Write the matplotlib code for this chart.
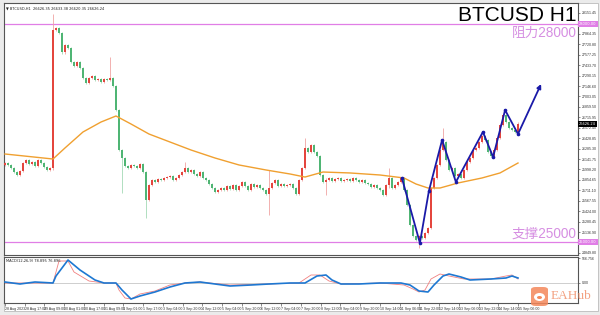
import matplotlib.pyplot as plt
import numpy as np
from matplotlib.patches import Rectangle, FancyBboxPatch, Ellipse

plt.rcParams['font.family'] = ['Liberation Sans', 'Noto Sans CJK SC', 'DejaVu Sans']

# hourly closes (compressed, one bar ~ 2.4 h)
closes = [26087, 26060, 26018, 25963, 25922, 25977, 26087, 26128, 26073, 26101,
          26046, 26128, 26087, 26032, 25991, 26018, 27917, 27945, 27876, 27614,
          27711, 27670, 27477, 27422, 27477, 27394, 27257, 27188, 27257, 27284,
          27229, 27243, 27202, 27243, 27229, 27257, 27147, 26816, 26266, 26156,
          26046, 26018, 26060, 26046, 26018, 26073, 25963, 25578, 25784, 25853,
          25826, 25867, 25853, 25881, 25894, 25908, 25853, 25881, 25922, 25963,
          26018, 25963, 25991, 25936, 25908, 25963, 25881, 25853, 25798, 25743,
          25688, 25716, 25743, 25716, 25771, 25729, 25784, 25716, 25771, 25826,
          25771, 25716, 25798, 25757, 25784, 25743, 25716, 25661, 25743, 25812,
          25853, 25771, 25798, 25771, 25784, 25798, 25743, 25661, 25853, 26018,
          26294, 26238, 26335, 26238, 26183, 25922, 25826, 25853, 25881, 25839,
          25867, 25881, 25839, 25853, 25867, 25839, 25881, 25853, 25826, 25853,
          25812, 25798, 25757, 25784, 25743, 25716, 25647, 25784, 25881, 25743,
          25784, 25826, 25881, 25716, 25509, 25234, 25083, 25028, 25083, 25055,
          25124, 25193, 25743, 25881, 26060, 26266, 26376, 26128, 25991, 26018,
          25908, 25936, 25881, 25991, 26101, 26156, 26266, 26294, 26376, 26459,
          26404, 26238, 26183, 26266, 26431, 26610, 26748, 26651, 26569, 26541,
          26514, 26626]
first_open = 26060
wick = 20
# bars with long shadows
spike_idx = [16, 35, 39, 47, 60, 88, 100, 107, 128, 138, 146]
spike_high = [28137, 27546, 26266, 25963, 26101, 25991, 26431, 25881, 26018, 25083, 26569]
spike_low = [25991, 27229, 25674, 25330, 25963, 25372, 26018, 25647, 25743, 24918, 26266]

# moving average line
ma_idx = [0, 16, 20, 26, 32, 37, 42, 48, 55, 62, 70, 78, 87, 95, 100, 106, 115,
          125, 133, 137, 141, 145, 151, 159, 165, 171]
ma_val = [26211, 26142, 26294, 26514, 26651, 26734, 26624, 26486, 26376, 26266,
          26156, 26060, 25991, 25936, 25894, 25963, 25950, 25922, 25881, 25798,
          25743, 25743, 25812, 25881, 25950, 26087]

# hand-drawn zigzag
zz_idx = [132.3, 138.3, 141.3, 145.7, 150.3, 159.3, 162.7, 166.7, 171, 178.7]
zz_val = [25881, 24986, 25702, 26404, 25826, 26514, 26170, 26816, 26486, 27174]

resistance = 28000
support = 25000
last_price = 26626.24

# MACD main and signal
macd_idx = [0, 5, 10, 16, 17, 21, 25, 30, 33, 37, 39, 42, 45, 50, 55, 60, 65, 70,
            75, 82, 88, 95, 100, 104, 107, 109, 112, 118, 125, 132, 135, 138, 141,
            143, 146, 148, 152, 155, 162, 167, 169, 171]
macd_val = [23, -23, 23, 0, 161, 529, 299, 69, 0, 0, -161, -368, -299, -207, -92,
            0, 23, -23, -69, -46, -23, 0, 0, 161, 184, 69, -23, -23, 0, 0, -46,
            -184, -207, -46, 161, 207, 138, 69, 92, 115, 161, 115]
sig_idx = [0, 16, 17, 18, 21, 23, 28, 33, 37, 38, 40, 42, 45, 50, 55, 60, 65, 75,
           88, 98, 102, 105, 108, 112, 125, 133, 136, 138, 140, 142, 145, 148,
           153, 162, 167, 169, 171]
sig_val = [0, 0, 253, 506, 506, 253, 46, 0, 0, -161, -345, -368, -253, -184, -46,
           0, 23, -46, -23, 0, 184, 184, 46, -23, 0, -46, -138, -207, -161, 92,
           207, 161, 92, 92, 161, 184, 92]

price_ticks = [28151.45, 27864.35, 27720.80, 27577.25, 27433.70,
               27290.15, 27146.60, 27003.05, 26859.50, 26715.95, 26572.40,
               26428.85, 26285.30, 26141.75, 25998.20, 25854.65, 25711.10,
               25567.55, 25424.00, 25280.45, 25136.90, 24849.80]
time_labels = ['28 Aug 2023', '28 Aug 17:00', '29 Aug 09:00', '30 Aug 01:00',
               '30 Aug 17:00', '31 Aug 09:00', '1 Sep 01:00', '1 Sep 17:00',
               '3 Sep 04:00', '3 Sep 20:00', '4 Sep 12:00', '5 Sep 04:00',
               '5 Sep 20:00', '6 Sep 12:00', '7 Sep 04:00', '7 Sep 20:00',
               '8 Sep 12:00', '9 Sep 04:00', '9 Sep 20:00', '10 Sep 14:00',
               '11 Sep 06:00', '11 Sep 22:00', '12 Sep 14:00', '13 Sep 06:00',
               '13 Sep 22:00', '14 Sep 14:00', '15 Sep 06:00']

pink = '#e07ee6'
pink_txt = '#d68fe2'
bull, bear = '#e4463e', '#4fb574'
bull_w, bear_w = '#f0a4a2', '#a3d9b5'
frame = '#555555'

fig = plt.figure(figsize=(6, 3.15), dpi=100, facecolor='#ebebeb')
fig.patches.append(Rectangle((4/600, 1-311/315), 594/600, 308/315,
                             transform=fig.transFigure, fc='white', ec='#bbbbbb',
                             lw=0.6, zorder=-10))
ax = fig.add_axes([4/600, 1-255/315, 574/600, 252/315])
axm = fig.add_axes([4/600, 1-303/315, 574/600, 46/315], sharex=ax)

# candles
n = len(closes)
x = np.arange(n)
opens = np.array([first_open] + closes[:-1], dtype=float)
cl = np.array(closes, dtype=float)
hi = np.maximum(opens, cl) + wick
lo = np.minimum(opens, cl) - wick
for i, h, l in zip(spike_idx, spike_high, spike_low):
    hi[i] = max(hi[i], h)
    lo[i] = min(lo[i], l)
up = cl >= opens
ax.vlines(x[up], lo[up], hi[up], color=bull_w, lw=0.6, zorder=2)
ax.vlines(x[~up], lo[~up], hi[~up], color=bear_w, lw=0.6, zorder=2)
body = np.maximum(np.abs(cl - opens), 8)
ax.bar(x[up], body[up], bottom=np.minimum(opens, cl)[up], width=0.6,
       color=bull, zorder=3, linewidth=0)
ax.bar(x[~up], body[~up], bottom=np.minimum(opens, cl)[~up], width=0.6,
       color=bear, zorder=3, linewidth=0)

ax.plot(ma_idx, ma_val, color='#f0a030', lw=1.0, zorder=4)
ax.axhline(resistance, color=pink, lw=0.9, zorder=1)
ax.axhline(support, color=pink, lw=0.9, zorder=1)

ax.plot(zz_idx[:-1], zz_val[:-1], color='#1a1aa8', lw=1.3, zorder=5)
ax.annotate('', xy=(zz_idx[-1], zz_val[-1]), xytext=(zz_idx[-2], zz_val[-2]),
            arrowprops=dict(arrowstyle='-|>', color='#1a1aa8', lw=1.3,
                            mutation_scale=6, shrinkA=0, shrinkB=0), zorder=5)
ax.plot(zz_idx[:-1], zz_val[:-1], 'o', color='#1a1aa8', ms=1.6, zorder=5)

ax.set_xlim(-0.33, 191)
ax.set_ylim(24821, 28289)

ax.yaxis.tick_right()
ax.set_yticks(price_ticks)
ax.set_yticklabels([f'{v:.2f}' for v in price_ticks])
ax.tick_params(axis='y', labelsize=2.6, length=1.5, width=0.4, pad=1,
               colors='#333333')
ax.tick_params(axis='x', bottom=False, labelbottom=False)
for s in ax.spines.values():
    s.set_color(frame)
    s.set_linewidth(0.8)

ytr = ax.get_yaxis_transform()
for val, fc in [(resistance, pink), (support, pink), (last_price, 'black')]:
    ax.text(1.002, val, f'{val:.2f}', transform=ytr, fontsize=2.6, color='white',
            va='center', ha='left', family='DejaVu Sans',
            bbox=dict(boxstyle='square,pad=0.25', fc=fc, ec='none'), clip_on=False)

ax.text(0.004, 0.985, '▼ BTCUSD,H1  26626.35 26633.38 26620.35 26626.24',
        transform=ax.transAxes, fontsize=2.6, va='top', ha='left',
        family='DejaVu Sans', color='#222222')
ax.text(0.998, 0.99, 'BTCUSD H1', transform=ax.transAxes, fontsize=15,
        va='top', ha='right', color='black')
ax.text(0.998, resistance - 25, '阻力28000', transform=ytr, fontsize=9.8,
        va='top', ha='right', color=pink_txt)
ax.text(0.998, support + 25, '支撑25000', transform=ytr, fontsize=9.8,
        va='bottom', ha='right', color=pink_txt)

# MACD panel
axm.axhline(0, color='#bbbbbb', lw=0.5, zorder=1)
axm.plot(sig_idx, sig_val, color='#f08080', lw=0.6, zorder=2)
axm.plot(macd_idx, macd_val, color='#1e78d2', lw=1.2, zorder=3)
axm.set_ylim(-460, 598)
axm.yaxis.tick_right()
axm.set_yticks([566.756, 0])
axm.set_yticklabels(['566.756', '0.00'])
axm.tick_params(axis='y', labelsize=2.6, length=1.5, width=0.4, pad=1,
                colors='#333333')
tick_pos = np.linspace(0, 171, len(time_labels))
axm.set_xticks(tick_pos)
axm.set_xticklabels(time_labels, ha='left')
axm.tick_params(axis='x', labelsize=2.6, length=2, width=0.4, pad=1,
                colors='#333333', direction='out')
for s in axm.spines.values():
    s.set_color(frame)
    s.set_linewidth(0.8)
axm.text(0.004, 0.96, 'MACD(12,26,9) 78.895 76.896', transform=axm.transAxes,
         fontsize=2.6, va='top', ha='left', family='DejaVu Sans', color='#222222')

# watermark logo (pig icon drawn as shapes)
fig.patches.append(FancyBboxPatch((531/600, 1-306/315), 17/600, 19/315,
                                  boxstyle='round,pad=0,rounding_size=0.008',
                                  transform=fig.transFigure, fc='#f4875a',
                                  ec='none', alpha=0.85, zorder=10))
fig.patches.append(Ellipse((539.5/600, 1-297/315), 11/600, 8/315,
                           transform=fig.transFigure, fc='white', ec='none',
                           zorder=11))
fig.patches.append(Ellipse((539.5/600, 1-297.5/315), 5/600, 3/315,
                           transform=fig.transFigure, fc='#f4875a', ec='none',
                           zorder=12))
fig.text(551/600, 1-296/315, 'EAHub', fontsize=9.5, color='#f08a62', alpha=0.8,
         ha='left', va='center', family='Liberation Serif', zorder=11)

fig.savefig('out.png', dpi=100, facecolor=fig.get_facecolor())
